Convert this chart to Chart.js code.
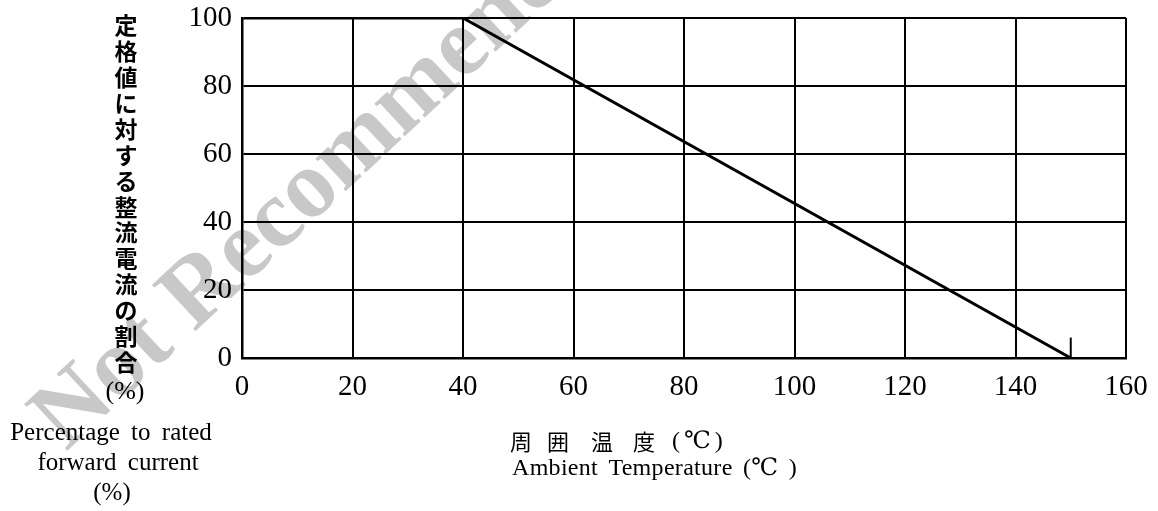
<!DOCTYPE html>
<html>
<head>
<meta charset="utf-8">
<script src="https://cdn.jsdelivr.net/npm/chart.js@4.4.1/dist/chart.umd.min.js"></script>
<style>
  html, body { margin: 0; padding: 0; background: #fff; }
  #wrap { width: 1158px; height: 511px; position: relative; }
</style>
</head>
<body>
<div id="wrap"><canvas id="chart"></canvas></div>
<script>
// derating curve: % of rated forward current vs ambient temperature
const temps = [0, 40, 150];
const currentPct = [100, 100, 0];
// short marker at 150 deg C
const markerTemps = [150, 150];
const markerPct = [0, 6];

const xTicks = [0, 20, 40, 60, 80, 100, 120, 140, 160];
const yTicks = [0, 20, 40, 60, 80, 100];

const yTitleJa = ['定', '格', '値', 'に', '対', 'す', 'る', '整', '流', '電', '流', 'の', '割', '合'];
const yTitleEn = ['Percentage to rated', 'forward current', '(%)'];
const xTitleJa = ['周', '囲', '温', '度'];
const xTitleEn = 'Ambient Temperature (\u2103 )';

const serif = "'Liberation Serif', 'DejaVu Serif', serif";
const cjk = "'Noto Sans CJK JP', sans-serif";

// faint watermark behind everything
const watermark = {
  id: 'watermark',
  beforeDraw(chart) {
    const ctx = chart.ctx;
    ctx.save();
    ctx.translate(66, 452);
    ctx.rotate(-43 * Math.PI / 180);
    ctx.font = 'bold 97px ' + serif;
    ctx.fillStyle = 'rgb(200,200,200)';
    ctx.textBaseline = 'alphabetic';
    ctx.fillText('Not Recommended', 0, 0);
    ctx.restore();
  }
};

// axis titles, laid out like the datasheet
const titles = {
  id: 'titles',
  afterDraw(chart) {
    const ctx = chart.ctx;
    ctx.save();
    ctx.fillStyle = '#000';
    ctx.textBaseline = 'middle';
    ctx.textAlign = 'center';

    ctx.font = 'bold 23px ' + cjk;
    yTitleJa.forEach((ch, i) => ctx.fillText(ch, 126, 25.5 + i * 25.9));
    ctx.font = '26px ' + serif;
    ctx.fillText('(%)', 125, 392);

    ctx.font = '25px ' + serif;
    if ('wordSpacing' in ctx) ctx.wordSpacing = '5px';
    ctx.fillText(yTitleEn[0], 111, 433);
    ctx.fillText(yTitleEn[1], 118, 463);
    ctx.fillText(yTitleEn[2], 112, 493);
    if ('wordSpacing' in ctx) ctx.wordSpacing = '0px';

    ctx.textAlign = 'left';
    const jaX = [510, 547, 591, 633];
    ctx.font = '22px ' + cjk;
    xTitleJa.forEach((ch, i) => ctx.fillText(ch, jaX[i], 442));
    ctx.font = '24px ' + serif;
    if ('letterSpacing' in ctx) ctx.letterSpacing = '4px';
    ctx.fillText('(\u2103)', 672, 442);
    if ('wordSpacing' in ctx) ctx.wordSpacing = '4px';
    if ('letterSpacing' in ctx) ctx.letterSpacing = '0.3px';
    ctx.fillText(xTitleEn, 512, 469);
    ctx.restore();
  }
};

new Chart(document.getElementById('chart'), {
  type: 'scatter',
  data: {
    datasets: [
      {
        data: temps.map((t, i) => ({ x: t, y: currentPct[i] })),
        showLine: true,
        borderColor: '#000',
        borderWidth: 3,
        pointRadius: 0,
        tension: 0
      },
      {
        data: markerTemps.map((t, i) => ({ x: t, y: markerPct[i] })),
        showLine: true,
        borderColor: '#000',
        borderWidth: 2,
        pointRadius: 0
      }
    ]
  },
  plugins: [watermark, titles],
  options: {
    responsive: true,
    maintainAspectRatio: false,
    animation: false,
    devicePixelRatio: 1,
    layout: { padding: { left: 0, right: 32, top: 18, bottom: 0 } },
    plugins: {
      legend: { display: false },
      tooltip: { enabled: false }
    },
    scales: {
      x: {
        type: 'linear',
        min: 0,
        max: 160,
        afterBuildTicks: (axis) => { axis.ticks = xTicks.map(v => ({ value: v })); },
        afterFit: (axis) => { axis.height = 153; axis.paddingLeft = 0; axis.paddingRight = 0; },
        ticks: { color: '#000', padding: 12, font: { family: serif, size: 29 } },
        grid: { color: '#000', lineWidth: 2, drawTicks: false },
        border: { color: '#000', width: 2.5 }
      },
      y: {
        type: 'linear',
        min: 0,
        max: 100,
        afterBuildTicks: (axis) => { axis.ticks = yTicks.map(v => ({ value: v })); },
        afterFit: (axis) => { axis.width = 242; axis.paddingTop = 0; axis.paddingBottom = 0; },
        ticks: { color: '#000', padding: 10, font: { family: serif, size: 29 } },
        grid: { color: '#000', lineWidth: 2, drawTicks: false },
        border: { color: '#000', width: 2.5 }
      }
    }
  }
});
</script>
</body>
</html>
